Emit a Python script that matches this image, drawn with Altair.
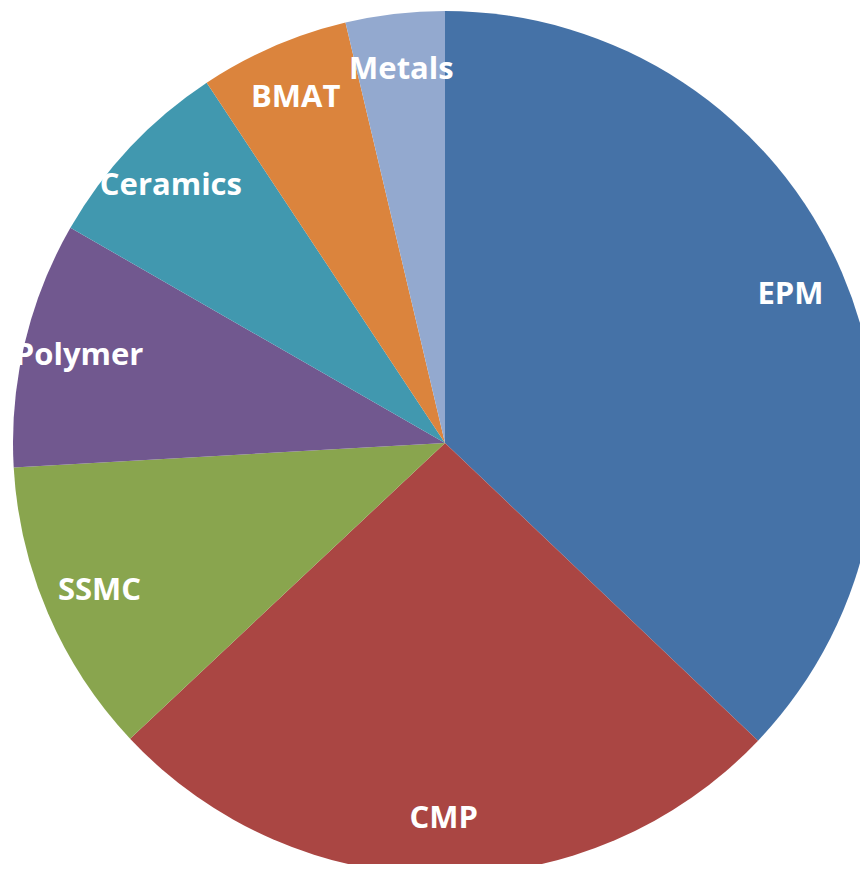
import altair as alt
import pandas as pd

categories = ["EPM", "CMP", "SSMC", "Polymer", "Ceramics", "BMAT", "Metals"]
shares = [37.1, 25.9, 11.1, 9.2, 7.4, 5.6, 3.7]
colors = ["#4572A7", "#AA4643", "#89A54E", "#71588F", "#4198AF", "#DB843D", "#93A9CF"]

df = pd.DataFrame({"category": categories, "share": shares, "order": list(range(len(categories)))})

cx, cy, r = 437, 435, 432

base = alt.Chart(df).encode(
    theta=alt.Theta("share:Q", stack=True),
    order=alt.Order("order:Q"),
    color=alt.Color("category:N", scale=alt.Scale(domain=categories, range=colors), legend=None),
)

arcs = base.mark_arc(outerRadius=r, stroke=None).encode(
    x=alt.value(cx), y=alt.value(cy)
)

labels = base.mark_text(
    radius=376, font="Open Sans", fontWeight="bold", fontSize=31,
    align="center", baseline="middle"
).encode(
    x=alt.value(cx), y=alt.value(cy),
    text="category:N",
    color=alt.value("white"),
)

chart = alt.layer(arcs, labels).properties(
    width=852, height=856, padding=0, autosize=alt.AutoSizeParams(type="none")
).configure_view(stroke=None)

chart.save("out.html", embed_options={"renderer": "svg", "actions": False})
